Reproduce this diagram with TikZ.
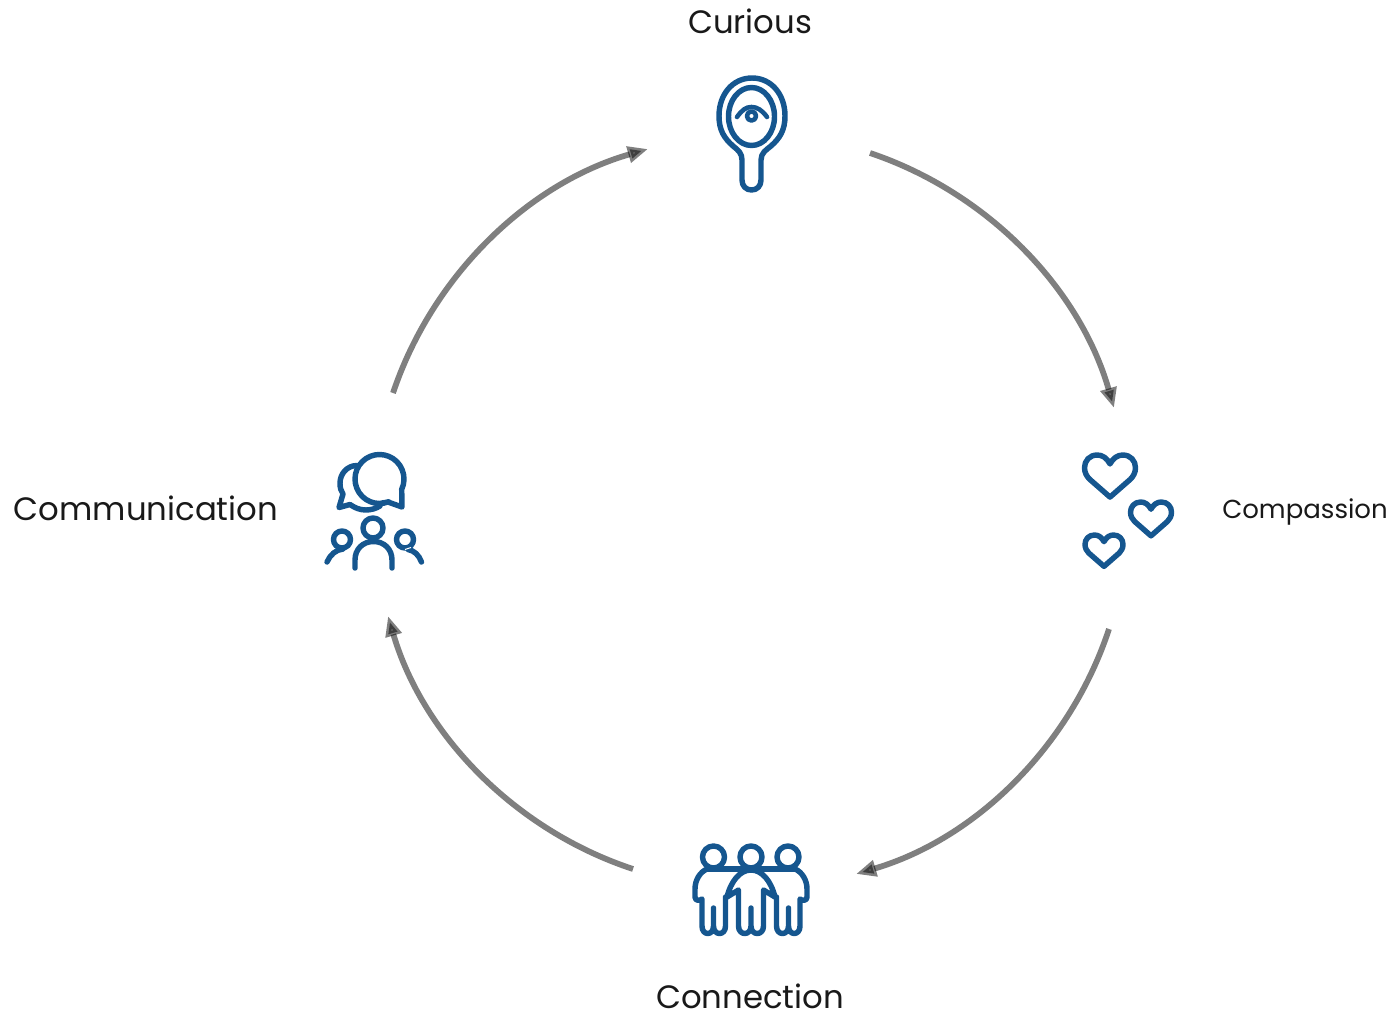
\documentclass[tikz,border=0pt]{standalone}
\usepackage{fontspec}
\setmainfont{Poppins}
\usetikzlibrary{arrows.meta}

\definecolor{iconblue}{HTML}{15568F}

\tikzset{
    cyclelabel/.style={shape=rectangle,inner sep=0pt,text=black!90,font=\fontsize{18.4}{22}\selectfont},
    cyclearrow/.style={draw=black,opacity=.5,line width=3.3pt,-{Triangle[length=11.5pt,width=9pt]}},
    iconline/.style={draw=iconblue,line width=3.1pt,line cap=round,line join=round},
    hearticon/.pic={
        \path[iconline] (0,.35) .. controls (.12,.12) and (.3,0) .. (.5,0)
            .. controls (.8,0) and (1,.22) .. (1,.5)
            .. controls (1,.7) and (.9,.85) .. (.8,.95)
            -- (0,1.65) -- (-.8,.95)
            .. controls (-.9,.85) and (-1,.7) .. (-1,.5)
            .. controls (-1,.22) and (-.8,0) .. (-.5,0)
            .. controls (-.3,0) and (-.12,.12) .. (0,.35) -- cycle;
    }
}

\begin{document}
\begin{tikzpicture}[x=0.02cm,y=-0.02cm]
        \useasboundingbox (0,0) rectangle (1393,1014);

        \node[cyclelabel] (Curious)       at (750,21)   {Curious};
        \node[cyclelabel] (Compassion)    at (1305,512) {\fontsize{14.8}{18}\selectfont Compassion};
        \node[cyclelabel] (Connection)    at (750,996)  {Connection};
        \node[cyclelabel] (Communication) at (146,508)  {Communication};

        \coordinate (CuriousOut)       at (870,153);
        \coordinate (CompassionIn)     at (1114,408);
        \coordinate (CompassionOut)    at (1109,629);
        \coordinate (ConnectionIn)     at (856,874);
        \coordinate (ConnectionOut)    at (633,869);
        \coordinate (CommunicationIn)  at (388,616);
        \coordinate (CommunicationOut) at (393,393);
        \coordinate (CuriousIn)        at (648,149);

        \path (CuriousOut) edge[cyclearrow,bend left=27.7,looseness=.9] (CompassionIn);
        \path (CompassionOut) edge[cyclearrow,bend left=27.7,looseness=.9] (ConnectionIn);
        \path (ConnectionOut) edge[cyclearrow,bend left=27.7,looseness=.9] (CommunicationIn);
        \path (CommunicationOut) edge[cyclearrow,bend left=27.7,looseness=.9] (CuriousIn);

        % mirror
        \path[iconline] (742,180) -- (742,160) .. controls (742,153) and (738,150) .. (733,146)
            .. controls (724,138) and (719,130) .. (719,116)
            .. controls (719,94) and (733,78) .. (752,78)
            .. controls (771,78) and (785,94) .. (785,116)
            .. controls (785,130) and (780,138) .. (771,146)
            .. controls (766,150) and (761,153) .. (761,160) -- (761,180)
            .. controls (761,186) and (757,190) .. (751.5,190)
            .. controls (746,190) and (742,186) .. (742,180) -- cycle;
        \path[iconline] (751.5,116.5) circle[x radius=23,y radius=29];
        \path[iconline,line width=2.6pt] (737,117) .. controls (742,110) and (746,107) .. (751.5,107)
            .. controls (757,107) and (762,110) .. (767,117);
        \path[iconline,line width=2.6pt] (751.5,116) circle[radius=4.6];

        % hearts
        \pic[scale=25.5] at (1110,455) {hearticon};
        \pic[scale=20.5] at (1151,502) {hearticon};
        \pic[scale=19]   at (1104,535) {hearticon};

        % three people, arms round each other
        \path[iconline] (713.5,857) circle[radius=11];
        \path[iconline] (751,857) circle[radius=11];
        \path[iconline] (788,857) circle[radius=11];
        \path[iconline] (707,869) -- (795,869);
        \path[iconline] (727,897) .. controls (731,881) and (740,870) .. (751,870)
            .. controls (762,870) and (771,881) .. (775,897) -- (763.5,890) -- (763.5,926)
            .. controls (763.5,936) and (751,936) .. (751,926) -- (751,908) -- (751,926)
            .. controls (751,936) and (738.5,936) .. (738.5,926) -- (738.5,890) -- cycle;
        \path[iconline] (707,869) .. controls (700,872) and (695,880) .. (695,889) -- (695,897)
            .. controls (695,901) and (700,901) .. (702,899) -- (702,926)
            .. controls (702,936) and (713.5,936) .. (713.5,926) -- (713.5,908) -- (713.5,926)
            .. controls (713.5,936) and (725.5,936) .. (725.5,926) -- (725.5,897);
        \path[iconline] (795,869) .. controls (802,872) and (807,880) .. (807,889) -- (807,897)
            .. controls (807,901) and (802,901) .. (800,899) -- (800,926)
            .. controls (800,936) and (788.5,936) .. (788.5,926) -- (788.5,908) -- (788.5,926)
            .. controls (788.5,936) and (776.5,936) .. (776.5,926) -- (776.5,897);

        % speech bubbles
        \path[iconline] (379.5,479) ++(68:24.5) arc[start angle=68,end angle=385,radius=24.5]
            -- (402,507) -- (388,502) .. controls (385,502.5) and (382,503) .. (379.5,503.5);
        \path[iconline] (357,465.5) .. controls (347,465.5) and (340,474) .. (340,483)
            .. controls (340,488) and (341,491) .. (343,494) -- (339,507.5) -- (350,504.5)
            .. controls (355,508) and (360,510) .. (366,510)
            .. controls (371,510) and (376,508.5) .. (380,506);

        % people under the bubbles
        \path[iconline] (373,528) circle[radius=10];
        \path[iconline] (355,568) -- (355,560) .. controls (355,549) and (363,541.5) .. (373.5,541.5)
            .. controls (384,541.5) and (392,549) .. (392,560) -- (392,568);
        \path[iconline] (342,539.5) circle[radius=8.5];
        \path[iconline] (327,562) .. controls (330,555) and (336,549.5) .. (343,549);
        \path[iconline] (405,539.5) circle[radius=8.5];
        \path[iconline] (408,549.5) .. controls (414,550.5) and (419,555) .. (421.5,562);
        \draw[white,line width=.6pt] (405,549.5) -- (411,547.5);
\end{tikzpicture}
\end{document}
